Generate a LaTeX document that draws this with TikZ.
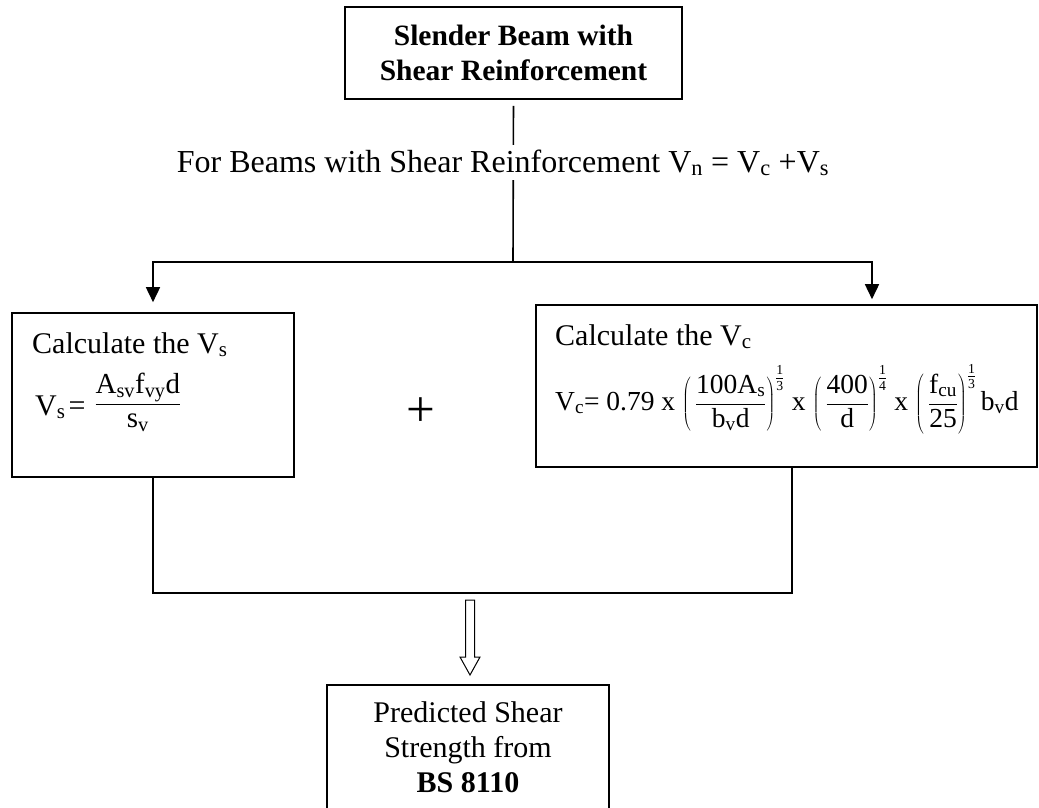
\documentclass[tikz,border=0pt]{standalone}
\usepackage{fontspec}
\setmainfont{Liberation Serif}
\usetikzlibrary{positioning,arrows.meta}
\newcommand{\eqstrut}{\rule[-20pt]{0pt}{41pt}}

\begin{document}
\begin{tikzpicture}[x=1pt, y=-1pt,
  font=\fontsize{30}{35}\selectfont,
  >={Triangle[length=15pt,width=14pt]},
  box/.style={rectangle, draw, line width=1.6pt, inner sep=0pt, align=center},
  txt/.style={inner sep=0pt, anchor=base west},
  flow/.style={->, line width=1.6pt},
  link/.style={line width=1.6pt},
  hollow/.style={line width=1pt, line join=miter},
]
\useasboundingbox (0,0) rectangle (1039,807);

% ---- Row 1: beam type ----
\node[box, minimum width=337pt, minimum height=92pt,
      font=\fontsize{29.5}{35}\selectfont\bfseries] (beam) at (513.5,53)
  {Slender Beam with\\Shear Reinforcement};
\coordinate (split) at (513,262);

% ---- Row 2: the two shear parts ----
\node[box, minimum width=282pt, minimum height=164pt] (vs) at (153,395) {};
\node[txt] (vstitle) at (32,353) {Calculate the V\textsubscript{s}};
\node[txt] (vseq) at (35,415)
  {V\textsubscript{s}\hspace{3pt}=\hspace{9pt}\raisebox{4.5pt}{\fontsize{29}{32}\selectfont
   $\displaystyle\frac{\mathrm{A_{sv}f_{vy}d}}{\mathrm{s_v}}$}};

\node (plus) at (421,412) {\fontsize{51}{51}\selectfont +};

\node[box, minimum width=501pt, minimum height=162pt] (vc) at (786.5,386) {};
\node[txt] (vctitle) at (555,345) {Calculate the V\textsubscript{c}};
\node[txt, font=\fontsize{27.5}{30}\selectfont] (vceq) at (555,410)
  {V\textsubscript{c}= 0.79 x
   $\displaystyle\left(\,\frac{\mathrm{100A_s}}{\mathrm{b_vd}}\eqstrut\right)^{\frac{\mathrm{1}}{\mathrm{3}}}$
   x $\displaystyle\left(\,\frac{\mathrm{400}}{\mathrm{d}}\eqstrut\right)^{\frac{\mathrm{1}}{\mathrm{4}}}$
   x $\displaystyle\left(\,\frac{\mathrm{f_{cu}}}{\mathrm{25}}\eqstrut\right)^{\frac{\mathrm{1}}{\mathrm{3}}}\mathrm{b_vd}$};
\coordinate (merge) at (470,593);

% ---- Row 3: result ----
\node[box, minimum width=282pt, minimum height=124pt] (bs) at (468,747)
  {Predicted Shear\\Strength from\\\textbf{BS 8110}};

% ---- arrows ----
\draw[link, shorten <=6pt] (beam.south) -- (split);
\draw[flow] (split) -| ([yshift=10pt]vs.north);
\draw[flow] (split) -| ([xshift=85.5pt,yshift=5pt]vc.north);
\draw[link] (vs.south) |- (merge) -| ([xshift=5.5pt]vc.south);
\draw[hollow] ([xshift=-4.5pt,yshift=-7pt]merge) -- ++(0,57) -- ++(-5.5,0) -- ++(10,18)
  -- ++(10,-18) -- ++(-5.5,0) -- ++(0,-57) -- cycle;
\node[fill=white, inner sep=4pt, anchor=base, font=\fontsize{32}{36}\selectfont] (rule) at (503,172)
  {For Beams with Shear Reinforcement V\textsubscript{n} = V\textsubscript{c} +V\textsubscript{s}};

\end{tikzpicture}
\end{document}
